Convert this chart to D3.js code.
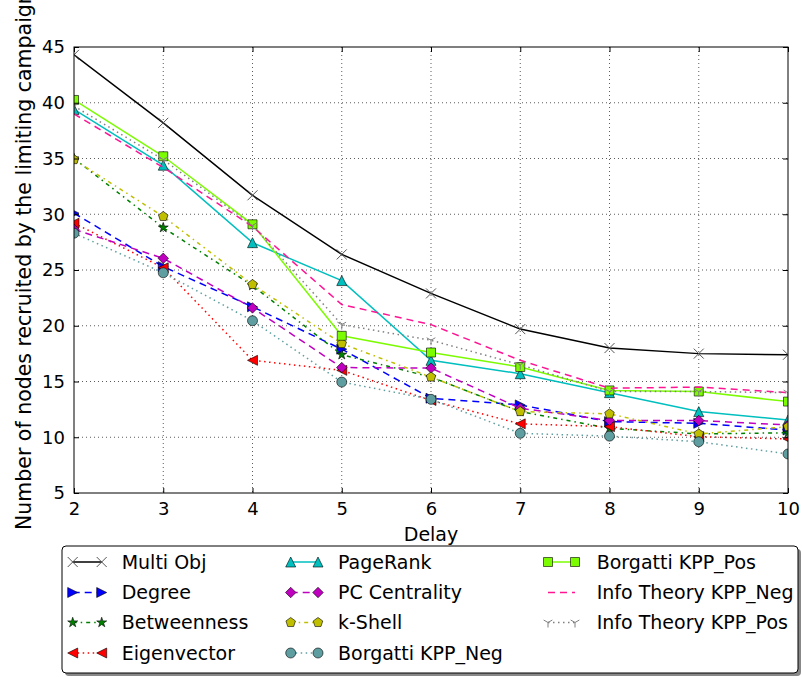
<!DOCTYPE html>
<html><head><meta charset="utf-8">
<script src="https://cdn.jsdelivr.net/npm/d3@7"></script>
<style>body{margin:0;background:#fff} svg{display:block} text{font-family:"DejaVu Sans",sans-serif;fill:#000}</style>
</head><body><svg id="c" width="802" height="677"></svg>
<script>
// ---- data ----
const delays = [2, 3, 4, 5, 6, 7, 8, 9, 10];
const yTickValues = [5, 10, 15, 20, 25, 30, 35, 40, 45];
const seriesNames = ["Multi Obj", "Degree", "Betweenness", "Eigenvector", "PageRank", "PC Centrality", "k-Shell", "Borgatti KPP_Neg", "Borgatti KPP_Pos", "Info Theory KPP_Neg", "Info Theory KPP_Pos"];
const multiObj       = [44.3, 38.2, 31.7, 26.4, 22.9, 19.7, 18.0, 17.5, 17.4];
const degree         = [30.1, 25.3, 21.7, 17.9, 13.5, 12.9, 11.4, 11.25, 10.65];
const betweenness    = [35.0, 28.8, 23.6, 17.4, 15.4, 12.3, 10.8, 10.3, 10.4];
const eigenvector    = [29.2, 25.2, 16.9, 16.0, 13.3, 11.2, 10.95, 10.05, 9.85];
const pageRank       = [39.4, 34.4, 27.45, 24.05, 16.9, 15.7, 14.0, 12.3, 11.55];
const pcCentrality   = [28.65, 26.05, 21.6, 16.25, 16.2, 12.6, 11.5, 11.5, 11.1];
const kShell         = [34.9, 29.8, 23.7, 18.4, 15.4, 12.3, 12.1, 10.3, 10.95];
const borgattiNeg    = [28.3, 24.75, 20.45, 14.95, 13.4, 10.35, 10.1, 9.6, 8.5];
const borgattiPos    = [40.25, 35.2, 29.1, 19.1, 17.6, 16.3, 14.2, 14.1, 13.2];
const infoTheoryNeg  = [39.0, 34.2, 28.9, 21.9, 20.1, 16.9, 14.4, 14.5, 14.0];
const infoTheoryPos  = [39.7, 34.9, 29.0, 20.1, 18.7, 16.5, 14.1, 14.1, 14.0];
const allValues = [multiObj, degree, betweenness, eigenvector, pageRank, pcCentrality, kShell, borgattiNeg, borgattiPos, infoTheoryNeg, infoTheoryPos];

// ---- styles ----
const styles = [
  {color:"#000000", dash:null, marker:"x"},
  {color:"#0000ff", dash:"7,5", marker:">"},
  {color:"#008000", dash:"4,4,1.5,4", marker:"*"},
  {color:"#ff0000", dash:"1.5,3.5", marker:"<"},
  {color:"#00bfbf", dash:null, marker:"^"},
  {color:"#bf00bf", dash:"7,5", marker:"D"},
  {color:"#bfbf00", dash:"4,4,1.5,4", marker:"p"},
  {color:"#5f9ea0", dash:"1.5,3.5", marker:"o"},
  {color:"#7cfc00", dash:null, marker:"s"},
  {color:"#ff1493", dash:"7,5", marker:null},
  {color:"#808080", dash:"1.5,3.5", marker:"1"}
];
const series = seriesNames.map((n,i)=>Object.assign({name:n, values:allValues[i]}, styles[i]));

const svg = d3.select("#c");
const L=74, R=788, T=47, B=493;
const x = d3.scaleLinear().domain([2,10]).range([L,R]);
const y = d3.scaleLinear().domain([5,45]).range([B,T]);

svg.append("defs").append("clipPath").attr("id","clip")
  .append("rect").attr("x",L).attr("y",T).attr("width",R-L).attr("height",B-T);

// grid
const grid = svg.append("g");
grid.selectAll("line.gx").data(delays.slice(1,-1)).join("line")
  .attr("x1",d=>x(d)).attr("x2",d=>x(d)).attr("y1",T).attr("y2",B)
  .attr("stroke","#000").attr("stroke-width",0.8).attr("stroke-dasharray","1,3").attr("opacity",0.8);
grid.selectAll("line.gy").data(yTickValues.slice(1,-1)).join("line")
  .attr("y1",d=>y(d)).attr("y2",d=>y(d)).attr("x1",L).attr("x2",R)
  .attr("stroke","#000").attr("stroke-width",0.8).attr("stroke-dasharray","1,3").attr("opacity",0.8);

// marker path
function markerPath(m, r){
  const p = d3.path();
  if(m==="x"){ p.moveTo(-r,-r); p.lineTo(r,r); p.moveTo(-r,r); p.lineTo(r,-r); }
  else if(m==="1"){ const a=r*0.87, b=r*0.5; p.moveTo(0,0); p.lineTo(0,r); p.moveTo(0,0); p.lineTo(-a,-b); p.moveTo(0,0); p.lineTo(a,-b); }
  else if(m==="^"){ p.moveTo(0,-r); p.lineTo(r,r); p.lineTo(-r,r); p.closePath(); }
  else if(m===">"){ p.moveTo(r,0); p.lineTo(-r,r); p.lineTo(-r,-r); p.closePath(); }
  else if(m==="<"){ p.moveTo(-r,0); p.lineTo(r,-r); p.lineTo(r,r); p.closePath(); }
  else if(m==="D"){ const q=r*1.05; p.moveTo(0,-q); p.lineTo(q,0); p.lineTo(0,q); p.lineTo(-q,0); p.closePath(); }
  else if(m==="s"){ const q=r*0.9; p.rect(-q,-q,2*q,2*q); }
  else if(m==="o"){ p.arc(0,0,r,0,2*Math.PI); }
  else if(m==="p"){ for(let k=0;k<5;k++){ const a=-Math.PI/2+k*2*Math.PI/5; const px=r*Math.cos(a), py=r*Math.sin(a); k?p.lineTo(px,py):p.moveTo(px,py);} p.closePath(); }
  else if(m==="*"){ for(let k=0;k<10;k++){ const a=-Math.PI/2+k*Math.PI/5; const rr=k%2?r*0.4:r*1.05; const px=rr*Math.cos(a), py=rr*Math.sin(a); k?p.lineTo(px,py):p.moveTo(px,py);} p.closePath(); }
  return p.toString();
}
function drawMarker(g, s, cx, cy){
  if(!s.marker) return;
  const r=5;
  const lineMarker = (s.marker==="x"||s.marker==="1");
  g.append("path").attr("d",markerPath(s.marker,r)).attr("transform",`translate(${cx},${cy})`)
    .attr("fill", lineMarker?"none":s.color)
    .attr("stroke", lineMarker?(s.marker==="x"?"#555":s.color):"#000")
    .attr("stroke-width", lineMarker?1:0.6);
}

// series
const plot = svg.append("g").attr("clip-path","url(#clip)");
const line = d3.line().x((d,i)=>x(delays[i])).y(d=>y(d));
series.forEach(s=>{
  const g = plot.append("g");
  g.append("path").attr("d",line(s.values)).attr("fill","none").attr("stroke",s.color)
    .attr("stroke-width",1.5).attr("stroke-dasharray",s.dash);
  s.values.forEach((v,i)=>drawMarker(g,s,x(delays[i]),y(v)));
});

// frame
svg.append("rect").attr("x",L).attr("y",T).attr("width",R-L).attr("height",B-T)
  .attr("fill","none").attr("stroke","#000").attr("stroke-width",1);

// axes with inward ticks
const tk = 5;
const xb = svg.append("g").attr("transform",`translate(0,${B})`)
  .call(d3.axisBottom(x).tickValues(delays).tickFormat(d3.format("d")).tickSizeInner(-tk).tickSizeOuter(0).tickPadding(9));
const xt = svg.append("g").attr("transform",`translate(0,${T})`)
  .call(d3.axisTop(x).tickValues(delays).tickFormat("").tickSizeInner(-tk).tickSizeOuter(0));
const yl = svg.append("g").attr("transform",`translate(${L},0)`)
  .call(d3.axisLeft(y).tickValues(yTickValues).tickFormat(d3.format("d")).tickSizeInner(-tk).tickSizeOuter(0).tickPadding(9));
const yr = svg.append("g").attr("transform",`translate(${R},0)`)
  .call(d3.axisRight(y).tickValues(yTickValues).tickFormat("").tickSizeInner(-tk).tickSizeOuter(0));
[xb,xt,yl,yr].forEach(a=>{ a.select(".domain").remove(); a.selectAll("line").attr("stroke","#000"); a.selectAll("text").attr("font-size",18).attr("font-family","DejaVu Sans").attr("fill","#000"); });

// axis labels
svg.append("text").attr("x",(L+R)/2).attr("y",541).attr("text-anchor","middle").attr("font-size",19).text("Delay");
svg.append("text").attr("transform","translate(31,530) rotate(-90)").attr("text-anchor","start").attr("font-size",20.5)
  .text("Number of nodes recruited by the limiting campaign");

// legend
const lg = svg.append("g");
lg.append("rect").attr("x",65).attr("y",549).attr("width",736).attr("height",127).attr("rx",4).attr("fill","#888");
lg.append("rect").attr("x",62).attr("y",546).attr("width",736).attr("height",127).attr("rx",4).attr("fill","#fff").attr("stroke","#000").attr("stroke-width",1);
const colMk = [[72.7,101.7],[290.7,318],[548,575]];
const colTx = [121.7,338,596.7];
const rowY = [562,592.5,622.5,653];
series.forEach((s,i)=>{
  const c = Math.floor(i/4), r = i%4;
  const g = lg.append("g");
  const [x1,x2] = colMk[c], yy = rowY[r];
  g.append("line").attr("x1",x1).attr("x2",x2).attr("y1",yy).attr("y2",yy).attr("stroke",s.color)
    .attr("stroke-width",1.5).attr("stroke-dasharray",s.dash);
  drawMarker(g,s,x1,yy); drawMarker(g,s,x2,yy);
  g.append("text").attr("x",colTx[c]).attr("y",yy).attr("dy","0.36em").attr("font-size",19).text(s.name);
});
</script></body></html>
